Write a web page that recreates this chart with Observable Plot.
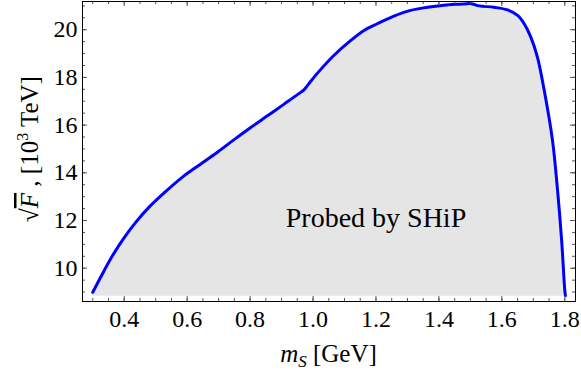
<!DOCTYPE html>
<html>
<head>
<meta charset="utf-8">
<script src="https://cdn.jsdelivr.net/npm/d3@7"></script>
<script src="https://cdn.jsdelivr.net/npm/@observablehq/plot@0.6"></script>
<style>
  html, body { margin: 0; padding: 0; background: #fff; }
  svg text { font-family: "Liberation Serif", "DejaVu Serif", serif !important; }
</style>
</head>
<body>
<div id="chart"></div>
<script>
// ---- data ----
const ms = [0.300, 0.331, 0.363, 0.400, 0.437, 0.479, 0.532, 0.585, 0.640, 0.696,
            0.748, 0.802, 0.855, 0.908, 0.955, 0.971, 0.985, 1.014, 1.066, 1.120,
            1.162, 1.204, 1.257, 1.310, 1.363, 1.416, 1.460, 1.490, 1.500, 1.510,
            1.528, 1.575, 1.618, 1.650, 1.671, 1.692, 1.713, 1.734, 1.761, 1.777,
            1.790, 1.800, 1.802];
const sqrtF = [8.99, 9.77, 10.53, 11.28, 11.93, 12.56, 13.22, 13.82, 14.34, 14.86,
               15.38, 15.90, 16.39, 16.88, 17.32, 17.48, 17.71, 18.18, 18.92, 19.55,
               19.97, 20.25, 20.57, 20.81, 20.94, 21.03, 21.07, 21.09, 21.10, 21.07,
               21.00, 20.94, 20.83, 20.60, 20.25, 19.69, 18.85, 17.50, 15.35, 13.26,
               11.16, 9.07, 8.85];
const fillBase = 8.82;
const xMajor = [0.4, 0.6, 0.8, 1.0, 1.2, 1.4, 1.6, 1.8];
const yMajor = [10, 12, 14, 16, 18, 20];
const xMinor = d3.range(6, 37).map(k => k * 0.05);
const yMinor = d3.range(18, 43).map(k => k * 0.5);
const regionLabel = "Probed by SHiP";
const regionLabelPos = [1.2, 12.1];

const rows = ms.map((m, i) => ({ms: m, f: sqrtF[i]}));

// ---- layout ----
const W = 581, H = 376, mL = 82, mR = 6, mT = 1, mB = 75;
const frameH = H - mT - mB, frameW = W - mL - mR;
const tickCol = "#555";
const serif = "Liberation Serif";

const chart = Plot.plot({
  width: W, height: H,
  marginLeft: mL, marginRight: mR, marginTop: mT, marginBottom: mB,
  style: {fontSize: "24px", background: "#fff", color: "#000"},
  x: {domain: [0.2674, 1.834], label: null},
  y: {domain: [8.604, 21.183], label: null},
  marks: [
    Plot.areaY(rows, {x: "ms", y1: d => fillBase, y2: "f", fill: "#e5e5e5"}),
    Plot.line(rows, {x: "ms", y: "f", stroke: "#0000ff", strokeWidth: 3, curve: "catmull-rom"}),
    Plot.text([regionLabel], {x: d => regionLabelPos[0], y: d => regionLabelPos[1], text: d => d,
      fontSize: 28, fontFamily: serif, textAnchor: "middle", lineAnchor: "middle", fill: "#000"}),
    // inward ticks: bottom / top
    Plot.tickX(xMinor, {x: d => d, insetTop: frameH - 3, stroke: tickCol}),
    Plot.tickX(xMinor, {x: d => d, insetBottom: frameH - 3, stroke: tickCol}),
    Plot.tickX(xMajor, {x: d => d, insetTop: frameH - 5, stroke: tickCol}),
    Plot.tickX(xMajor, {x: d => d, insetBottom: frameH - 5, stroke: tickCol}),
    // inward ticks: left / right
    Plot.tickY(yMinor, {y: d => d, insetRight: frameW - 3, stroke: tickCol}),
    Plot.tickY(yMinor, {y: d => d, insetLeft: frameW - 3, stroke: tickCol}),
    Plot.tickY(yMajor, {y: d => d, insetRight: frameW - 5, stroke: tickCol}),
    Plot.tickY(yMajor, {y: d => d, insetLeft: frameW - 5, stroke: tickCol}),
    Plot.frame({stroke: "#000", strokeWidth: 1}),
    Plot.axisX({ticks: xMajor, tickSize: 0, tickPadding: 8, tickFormat: d3.format(".1f"), fontSize: 24, fontFamily: serif}),
    Plot.axisY({ticks: yMajor, tickSize: 0, tickPadding: 5, tickFormat: d3.format("d"), fontSize: 24, fontFamily: serif})
  ]
});

document.getElementById("chart").appendChild(chart);

// ---- axis titles with rich text ----
const svg = d3.select(chart);
svg.style("font-family", "'Liberation Serif', serif");
const cx = (mL + (W - mR)) / 2;

const xt = svg.append("text")
  .attr("x", cx).attr("y", 362)
  .attr("text-anchor", "middle")
  .attr("font-size", 25).attr("fill", "#000");
xt.append("tspan").attr("font-style", "italic").text("m");
xt.append("tspan").attr("font-style", "italic").attr("font-size", 17).attr("dy", 5).text("S");
xt.append("tspan").attr("dy", -5).text(" [GeV]");

const yt = svg.append("text")
  .attr("transform", `translate(38,${(mT + H - mB) / 2 - 2}) rotate(-90)`)
  .attr("text-anchor", "middle")
  .attr("font-size", 25).attr("fill", "#000");
yt.append("tspan").text("\u221A");
yt.append("tspan").attr("font-style", "italic").attr("text-decoration", "overline").text("F");
yt.append("tspan").text(" , [10");
yt.append("tspan").attr("font-size", 16).attr("dy", -10).text("3");
yt.append("tspan").attr("dy", 10).text(" TeV]");
</script>
</body>
</html>
